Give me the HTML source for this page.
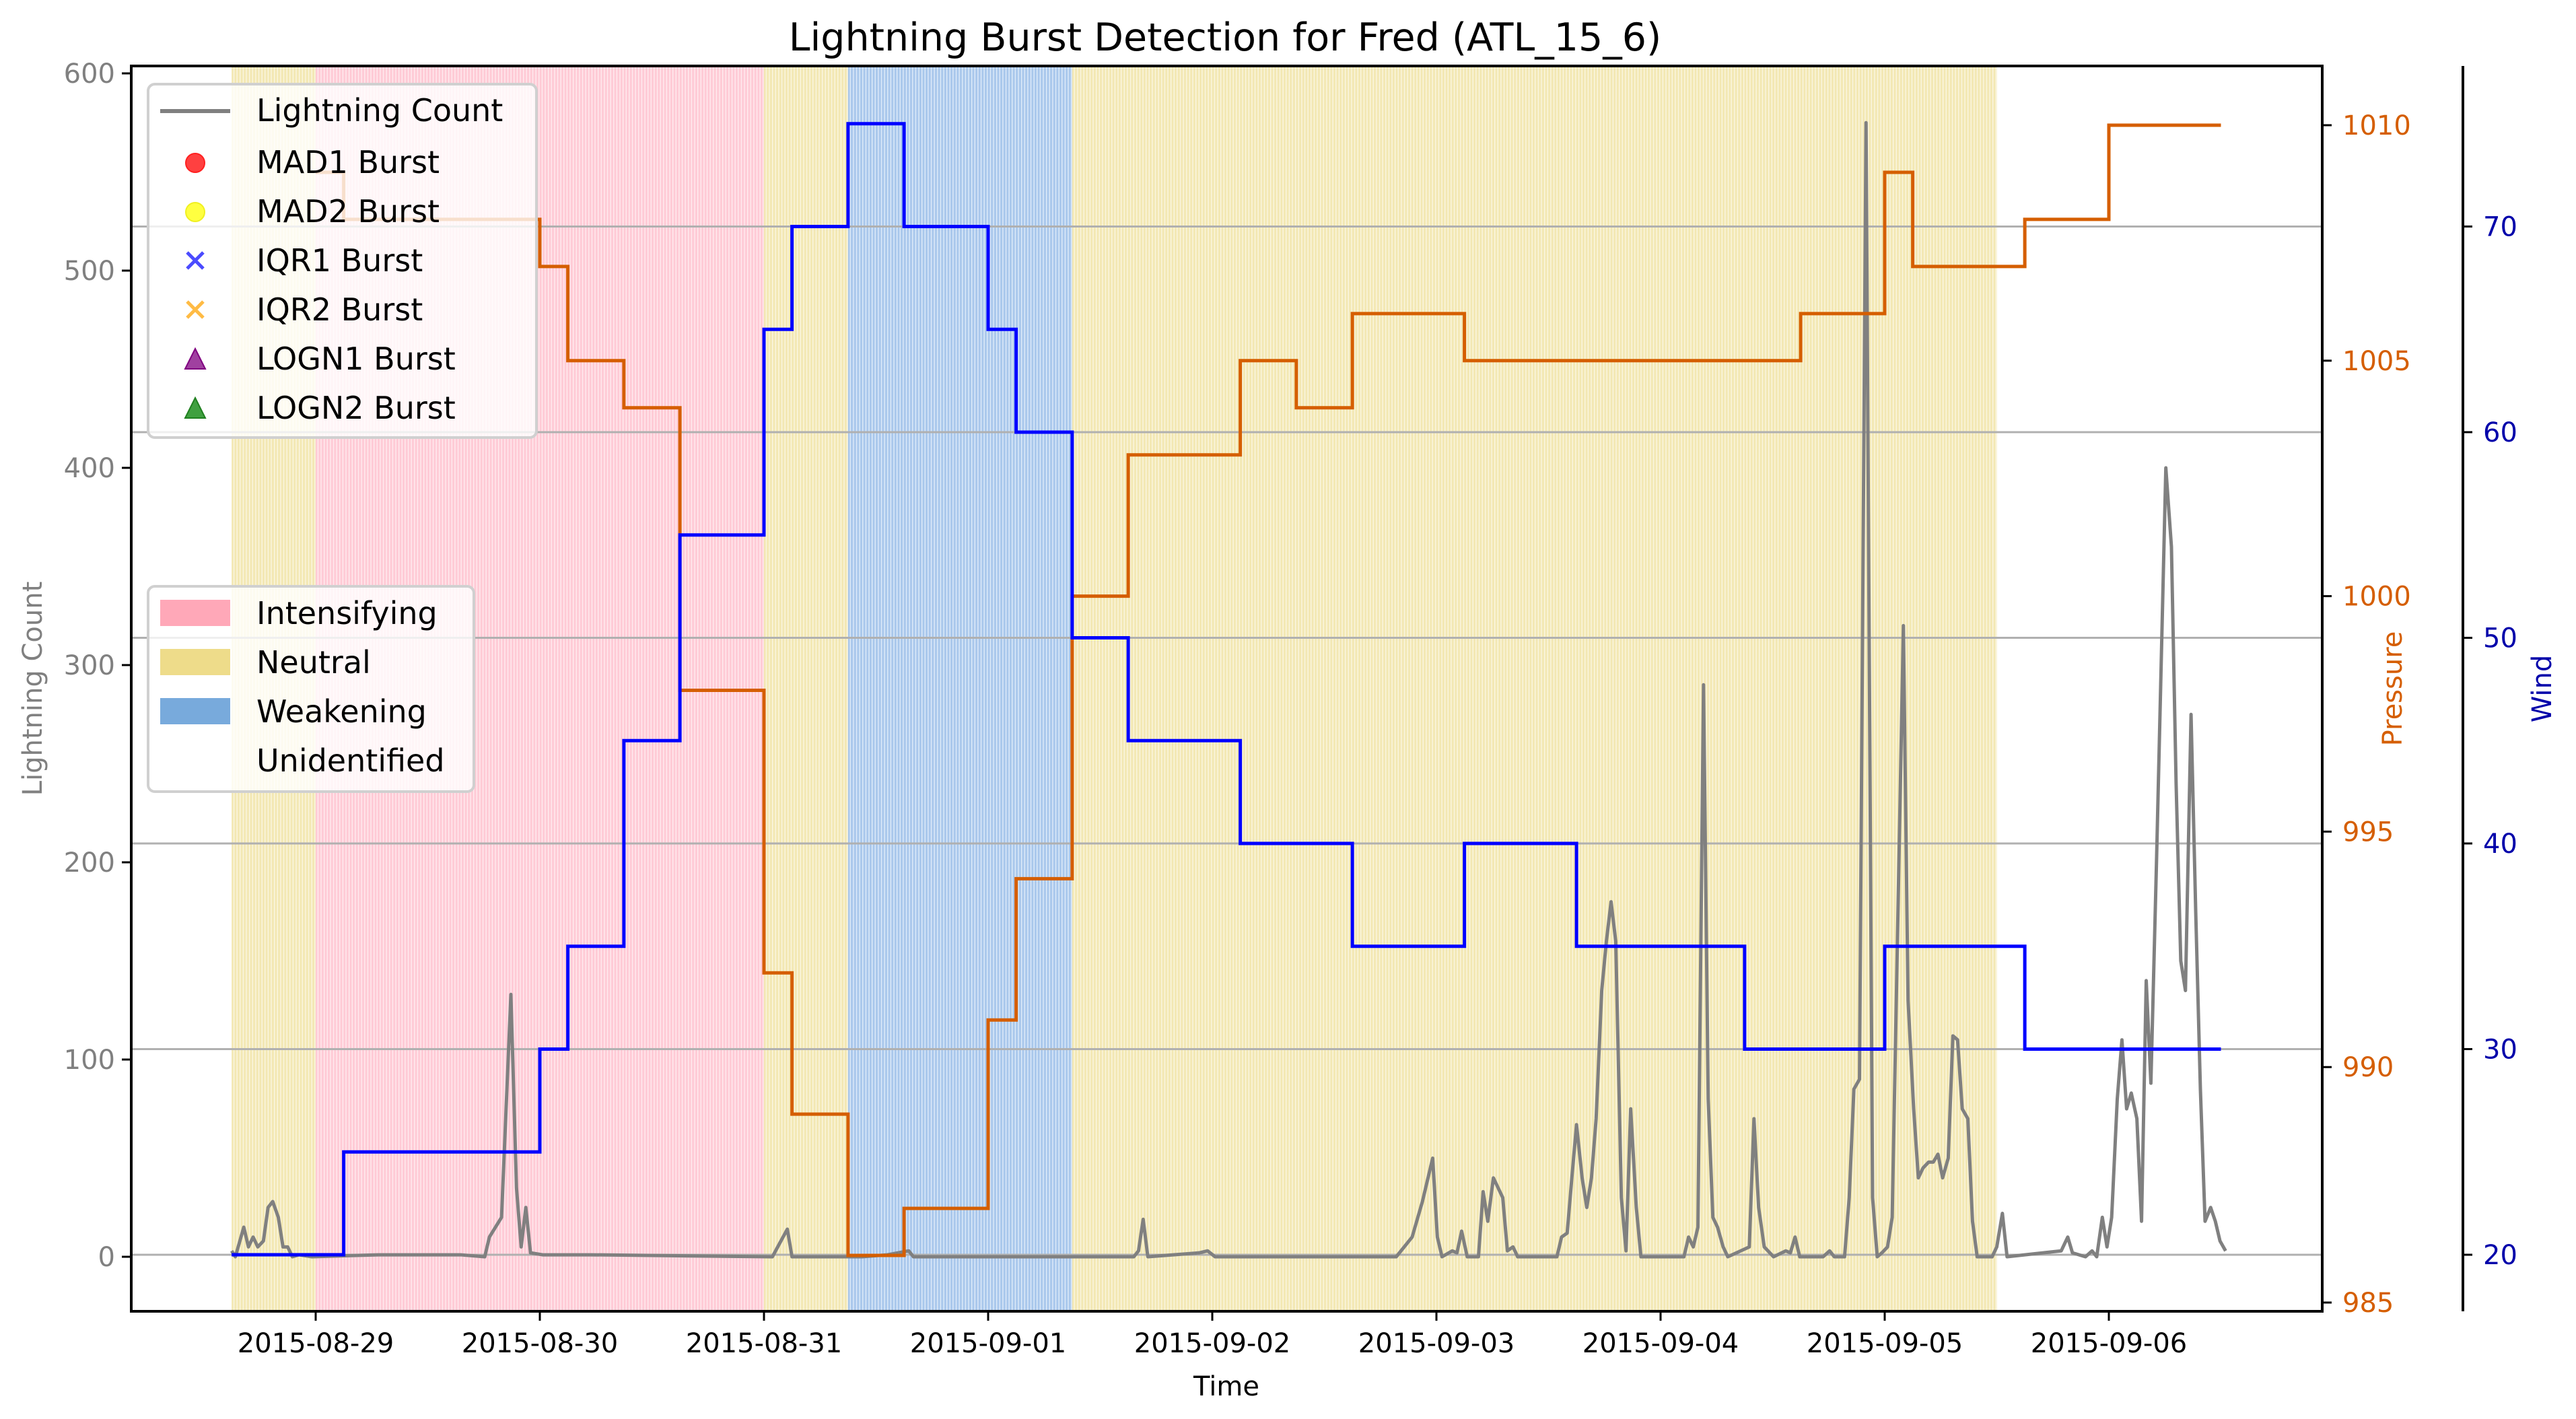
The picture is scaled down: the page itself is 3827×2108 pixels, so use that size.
<!DOCTYPE html>
<html><head><meta charset="utf-8"><style>
body{margin:0;background:#fff}
svg text{font-family:"DejaVu Sans","Liberation Sans",sans-serif}
</style></head><body>
<svg id="chart" width="3827" height="2103" viewBox="0 0 3827 2103" xmlns="http://www.w3.org/2000/svg">
<defs>
<pattern id="pI" width="4.625" height="10" patternUnits="userSpaceOnUse"><rect width="4.625" height="10" fill="#ffcbd6"/><rect width="1.3" height="10" fill="#ffeef1"/></pattern>
<pattern id="pN" width="4.625" height="10" patternUnits="userSpaceOnUse"><rect width="4.625" height="10" fill="#f3e8b4"/><rect width="1.3" height="10" fill="#fbf7e4"/></pattern>
<pattern id="pW" width="4.625" height="10" patternUnits="userSpaceOnUse"><rect width="4.625" height="10" fill="#aac8ec"/><rect width="1.3" height="10" fill="#e3eefa"/></pattern>
<clipPath id="plotclip"><rect x="195" y="98" width="3255" height="1850"/></clipPath>
</defs>
<g id="bg" clip-path="url(#plotclip)"></g>
<g id="grid"></g>
<g id="series" clip-path="url(#plotclip)"></g>
<g id="axes"></g>
<text x="1820" y="75" font-size="57" text-anchor="middle">Lightning Burst Detection for Fred (ATL_15_6)</text>
<text x="1822" y="2073" font-size="40" text-anchor="middle">Time</text>
<text x="62" y="1023" font-size="40" fill="#808080" text-anchor="middle" transform="rotate(-90 62 1023)">Lightning Count</text>
<text x="3568" y="1023" font-size="40" fill="#d55e00" text-anchor="middle" transform="rotate(-90 3568 1023)">Pressure</text>
<text x="3790" y="1023" font-size="40" fill="#0000aa" text-anchor="middle" transform="rotate(-90 3790 1023)">Wind</text>
<g id="legend1">
<rect x="220" y="125" width="577" height="525" rx="10" fill="#fff" fill-opacity="0.8" stroke="#d0d0d0" stroke-width="4"/>
<line x1="238" y1="165" x2="342" y2="165" stroke="#808080" stroke-width="6"/>
<text x="381" y="180" font-size="46">Lightning Count</text>
<circle cx="290" cy="242" r="14" fill="#ff4040" stroke="#ff2020" stroke-width="2"/>
<text x="381" y="257" font-size="46">MAD1 Burst</text>
<circle cx="290" cy="315" r="14" fill="#ffff40" stroke="#f0f020" stroke-width="2"/>
<text x="381" y="330" font-size="46">MAD2 Burst</text>
<path d="M278 375 L302 399 M302 375 L278 399" stroke="#4b4bff" stroke-width="5"/>
<text x="381" y="403" font-size="46">IQR1 Burst</text>
<path d="M278 448 L302 472 M302 448 L278 472" stroke="#ffbb44" stroke-width="5"/>
<text x="381" y="476" font-size="46">IQR2 Burst</text>
<path d="M290 518 L305 548 L275 548 Z" fill="#a040a0" stroke="#800080" stroke-width="2"/>
<text x="381" y="549" font-size="46">LOGN1 Burst</text>
<path d="M290 591 L305 621 L275 621 Z" fill="#40a040" stroke="#208020" stroke-width="2"/>
<text x="381" y="622" font-size="46">LOGN2 Burst</text>
</g>
<g id="legend2">
<rect x="220" y="871" width="484" height="305" rx="10" fill="#fff" fill-opacity="0.8" stroke="#d0d0d0" stroke-width="4"/>
<rect x="238" y="891" width="104" height="39" fill="#ffa8b8"/>
<text x="381" y="927" font-size="46">Intensifying</text>
<rect x="238" y="964" width="104" height="39" fill="#eedc8a"/>
<text x="381" y="1000" font-size="46">Neutral</text>
<rect x="238" y="1037" width="104" height="39" fill="#78aadc"/>
<text x="381" y="1073" font-size="46">Weakening</text>
<text x="381" y="1146" font-size="46">Unidentified</text>
</g>
</svg>
<script>
// hours since 2015-08-29 00:00
const phaseStarts=[-9,0,48,57,81,180];
const phaseEnds=[0,48,57,81,180,205];
const phaseNames=['neutral','intensifying','neutral','weakening','neutral','unidentified'];
const windTimes=[-9,3,24,27,33,39,48,51,57,63,72,75,81,87,99,111,123,135,153,168,183,204];
const windValues=[20,25,30,35,45,55,65,70,75,70,65,60,50,45,40,35,40,35,30,35,30];
const presTimes=[0,3,24,27,33,39,48,51,57,63,72,75,81,87,99,105,111,123,159,168,171,183,192,204];
const presValues=[1009,1008,1007,1005,1004,998,992,989,986,987,991,994,1000,1003,1005,1004,1006,1005,1006,1009,1007,1008,1010];
const lcTimes=[-9,-8.6,-7.7,-7.2,-6.7,-6.2,-5.6,-5.1,-4.6,-4,-3.5,-3,-2.5,-1.8,-0.4,6.7,15.5,18.1,18.6,19.9,20.9,21.5,22,22.5,23,24.3,29.5,48.9,50.5,51,54.2,58.5,61.2,63.5,64,87.6,88.1,88.6,89.1,94.6,95.5,96.3,115.7,117.4,118.5,119.6,120.1,120.6,121.7,122.2,122.7,123.3,124.5,125,125.5,126.1,126.6,127.1,127.6,128.2,128.7,132.9,133.4,134,134.5,135,135.6,136.1,136.6,137.1,137.7,138.2,138.7,139.2,139.8,140.3,140.8,141.4,141.9,146.5,147,147.5,148,148.6,149.1,149.6,150.1,150.7,151.2,153.5,154,154.5,155.1,156.1,157.4,157.9,158.4,158.9,161.4,162.1,162.6,163.7,164.2,164.7,165.3,166,166.7,167.2,167.7,168.3,168.8,170,170.5,171.1,171.6,172.1,172.7,173.2,173.7,174.2,174.8,175.3,175.8,176.3,176.9,177.4,177.9,179.5,180,180.6,181.1,186.9,187.6,188.1,189.5,190.2,190.7,191.3,191.8,192.3,192.9,193.4,193.9,194.4,195,195.5,196,196.5,197.1,197.6,198.1,198.7,199.2,199.7,200.2,200.8,201.3,201.8,202.3,202.9,203.4,203.9,204.5];
const lcValues=[3,0,15,5,10,5,8,25,28,20,5,5,0,1,0,1,1,0,10,20,133,35,5,25,2,1,1,0,14,0,0,0,1,3,0,0,3,19,0,2,3,0,0,10,28,50,10,0,3,2,13,0,0,33,18,40,35,30,3,5,0,0,10,12,40,67,40,25,40,70,135,160,180,160,30,3,75,25,0,0,10,5,15,290,80,20,15,5,0,5,70,25,5,0,3,2,10,0,0,3,0,0,30,85,90,575,30,0,2,5,20,320,130,75,40,45,48,48,52,40,50,112,110,75,70,18,0,0,5,22,0,3,10,2,0,3,0,20,5,20,80,110,75,83,70,18,140,88,200,300,400,360,240,150,135,275,175,85,18,25,18,8,3];
const lcTicks=[0,100,200,300,400,500,600];
const presTicks=[985,990,995,1000,1005,1010];
const windTicks=[20,30,40,50,60,70];
const dateLabels=['2015-08-29','2015-08-30','2015-08-31','2015-09-01','2015-09-02','2015-09-03','2015-09-04','2015-09-05','2015-09-06'];

const X0=195,X1=3450,Y0=98,Y1=1948;
const xs=h=>469+h*13.875;
const yL=v=>1867-v*2.93;
const yP=p=>186+(1010-p)*69.96;
const yW=w=>1864-(w-20)*30.55;
const NS='http://www.w3.org/2000/svg';
function mk(parent,tag,attrs){const e=document.createElementNS(NS,tag);for(const k in attrs)e.setAttribute(k,attrs[k]);document.getElementById(parent).appendChild(e);return e;}
const fills={intensifying:'url(#pI)',neutral:'url(#pN)',weakening:'url(#pW)',unidentified:'none'};
phaseStarts.forEach((s,i)=>{
  const r=mk('bg','rect',{x:xs(s),y:Y0,width:xs(phaseEnds[i])-xs(s),height:Y1-Y0,fill:fills[phaseNames[i]]});
  
  
});
windTicks.forEach(w=>{
  const l=mk('grid','line',{x1:X0,x2:X1,y1:yW(w),y2:yW(w),stroke:'#b0b0b0','stroke-width':3});
  
  
});
function stepPath(t,v,fy){let d='';v.forEach((val,i)=>{d+=(i?'L':'M')+xs(t[i])+' '+fy(val)+'L'+xs(t[i+1])+' '+fy(val);});return d;}
const lc=mk('series','polyline',{points:lcTimes.map((t,i)=>xs(t)+','+yL(lcValues[i])).join(' '),fill:'none',stroke:'#808080','stroke-width':5,'stroke-linejoin':'round'});


const pl=mk('series','path',{d:stepPath(presTimes,presValues,yP),fill:'none',stroke:'#d55e00','stroke-width':5});


const wl=mk('series','path',{d:stepPath(windTimes,windValues,yW),fill:'none',stroke:'#0000ff','stroke-width':5});


// spines
const fr=mk('axes','rect',{x:X0,y:Y0,width:X1-X0,height:Y1-Y0,fill:'none',stroke:'#000','stroke-width':4});


const ws=mk('axes','line',{x1:3659,x2:3659,y1:Y0,y2:Y1,stroke:'#000','stroke-width':4});


lcTicks.forEach(v=>{
  mk('axes','line',{x1:X0-14,x2:X0,y1:yL(v),y2:yL(v),stroke:'#000','stroke-width':3});
  const t=mk('axes','text',{x:X0-24,y:yL(v)+14,'font-size':40,fill:'#808080','text-anchor':'end'});t.textContent=v;
  
  
});
presTicks.forEach(v=>{
  mk('axes','line',{x1:X1,x2:X1+14,y1:yP(v),y2:yP(v),stroke:'#000','stroke-width':3});
  const t=mk('axes','text',{x:X1+30,y:yP(v)+14,'font-size':40,fill:'#d55e00'});t.textContent=v;
  
  
});
windTicks.forEach(v=>{
  mk('axes','line',{x1:3659,x2:3673,y1:yW(v),y2:yW(v),stroke:'#000','stroke-width':3});
  const t=mk('axes','text',{x:3689,y:yW(v)+14,'font-size':40,fill:'#0000aa'});t.textContent=v;
  
  
});
dateLabels.forEach((d,i)=>{
  const x=xs(i*24);
  mk('axes','line',{x1:x,x2:x,y1:Y1,y2:Y1+14,stroke:'#000','stroke-width':3});
  const t=mk('axes','text',{x:x,y:2009,'font-size':40,'text-anchor':'middle'});t.textContent=d;
  
  
});
</script>
</body></html>
